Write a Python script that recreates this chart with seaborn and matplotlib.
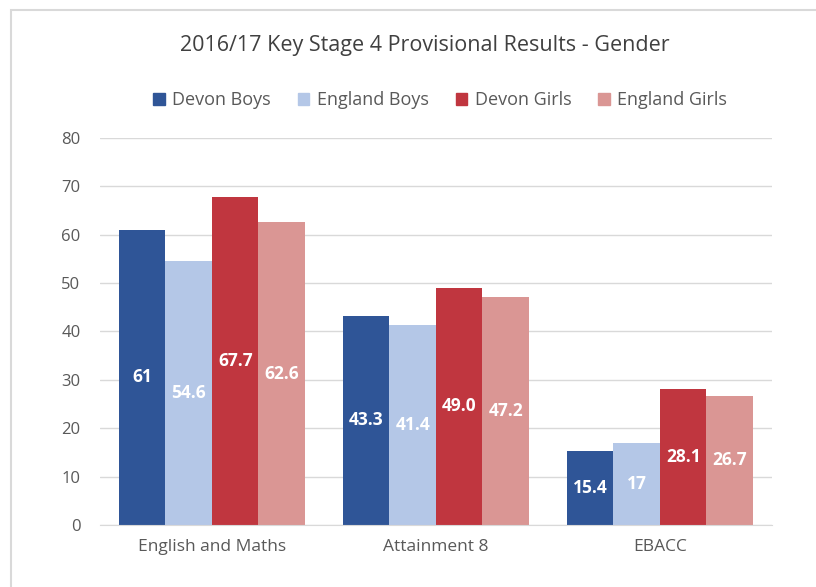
import pandas as pd
import seaborn as sns
import matplotlib.pyplot as plt
from matplotlib.patches import Rectangle

# Chart data
measures = ['English and Maths', 'Attainment 8', 'EBACC']
groups = ['Devon Boys', 'England Boys', 'Devon Girls', 'England Girls']
devon_boys = [61, 43.3, 15.4]
england_boys = [54.6, 41.4, 17]
devon_girls = [67.7, 49.0, 28.1]
england_girls = [62.6, 47.2, 26.7]
label_text = {
    'Devon Boys': ['61', '43.3', '15.4'],
    'England Boys': ['54.6', '41.4', '17'],
    'Devon Girls': ['67.7', '49.0', '28.1'],
    'England Girls': ['62.6', '47.2', '26.7'],
}
colors = ['#2F5597', '#B4C7E7', '#C0363F', '#DA9694']

rows = []
for g, vals in zip(groups, [devon_boys, england_boys, devon_girls, england_girls]):
    for m, v in zip(measures, vals):
        rows.append({'measure': m, 'group': g, 'value': v})
df = pd.DataFrame(rows)

sns.set_style('white')
plt.rcParams['font.family'] = ['Open Sans', 'DejaVu Sans']

fig = plt.figure(figsize=(8.16, 5.87), dpi=100)
ax = fig.add_axes([0.1225, 0.1056, 0.8235, 0.6594])

sns.barplot(data=df, x='measure', y='value', hue='group', hue_order=groups,
            order=measures, palette=colors, width=0.83, saturation=1,
            errorbar=None, linewidth=0, ax=ax, legend=False)

for cont, g in zip(ax.containers, groups):
    ax.bar_label(cont, labels=label_text[g], label_type='center',
                 color='white', fontsize=12.5, fontweight='bold')

ax.set_ylim(0, 80)
ax.set_yticks(range(0, 81, 10))
ax.set_xlim(-0.5, 2.5)
ax.yaxis.grid(True, color='#D9D9D9', linewidth=1)
ax.set_axisbelow(True)
for s in ['top', 'right', 'left']:
    ax.spines[s].set_visible(False)
ax.spines['bottom'].set_color('#D9D9D9')
ax.tick_params(axis='y', length=0, labelsize=12, colors='#595959', pad=14)
ax.tick_params(axis='x', length=0, labelsize=12.5, colors='#595959', pad=10)
ax.set_xlabel('')
ax.set_ylabel('')

fig.text(425 / 816, 1 - 45 / 587, '2016/17 Key Stage 4 Provisional Results - Gender',
         ha='center', va='center', fontsize=15.5, color='#404040')

handles = [Rectangle((0, 0), 1, 1, color=c) for c in colors]
fig.legend(handles, groups, loc='center', bbox_to_anchor=(440 / 816, 1 - 100 / 587),
           ncol=4, frameon=False, fontsize=13, handlelength=0.65, handleheight=0.65,
           handletextpad=0.4, columnspacing=1.5, labelcolor='#595959')

fig.patches.append(Rectangle((11 / 816, -0.1), 1.2, 1 - 10 / 587 + 0.1,
                             transform=fig.transFigure, fill=False,
                             edgecolor='#D9D9D9', linewidth=1.5))

fig.savefig('out.png', dpi=100)
